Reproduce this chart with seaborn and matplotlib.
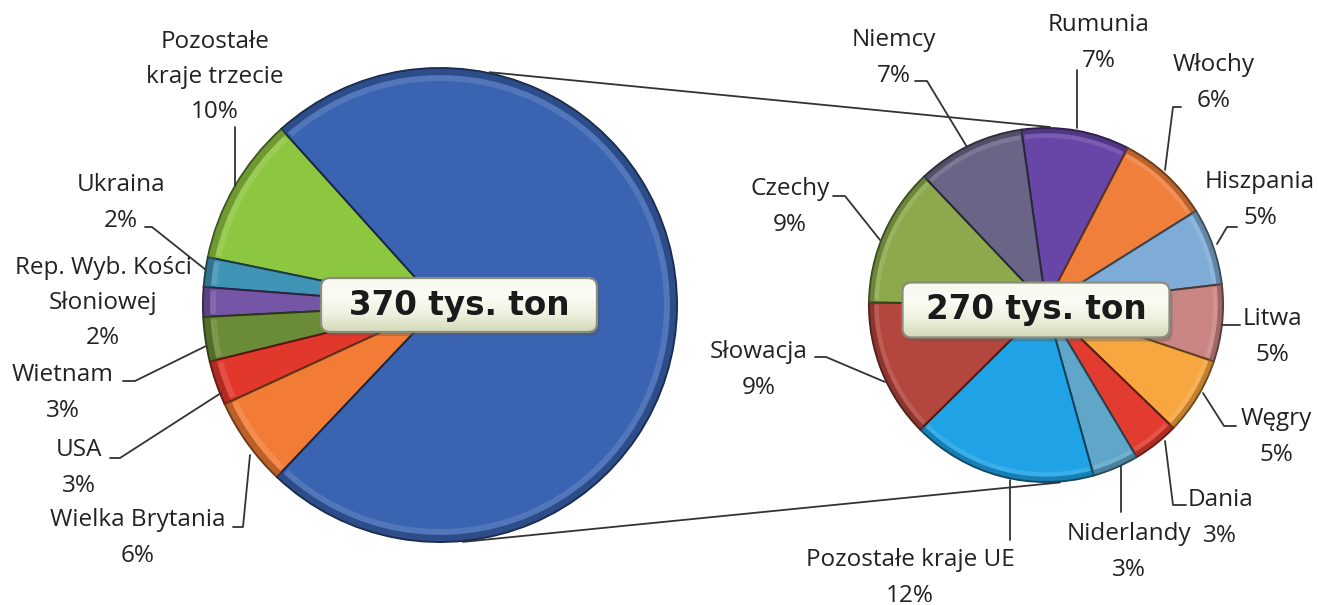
import numpy as np
import matplotlib
matplotlib.use("Agg")
import matplotlib.pyplot as plt
import matplotlib.colors as mcolors
from matplotlib.patches import Wedge, FancyBboxPatch
from matplotlib.colors import LinearSegmentedColormap
import seaborn as sns

W, H = 1319, 605

# --- data -------------------------------------------------------------
total_tons = 370
eu_tons = 270

left_names = ["Pozostałe\nkraje trzecie", "Ukraina", "Rep. Wyb. Kości\nSłoniowej",
              "Wietnam", "USA", "Wielka Brytania"]
left_pct = [10, 2, 2, 3, 3, 6]
eu_pct = round(100 * eu_tons / total_tons)

right_names = ["Rumunia", "Włochy", "Hiszpania", "Litwa", "Węgry", "Dania",
               "Niderlandy", "Pozostałe kraje UE", "Słowacja", "Czechy", "Niemcy"]
right_pct = [7, 6, 5, 5, 5, 3, 3, 12, 9, 9, 7]

left_colors = ["#8dc63f", "#3f93b5", "#7555a5", "#6b8c37", "#e2382b", "#f27c35"]
eu_color = "#3a63b1"
right_colors = ["#6746a8", "#f07f3c", "#7facd6", "#c98583", "#f8a640", "#e23b2f",
                "#5fa6c8", "#1fa3e6", "#b4463d", "#8caa4c", "#6a6587"]

# label centres and leader lines (image pixel coords, y down)
left_layout = [
    ((215, 77), [(235, 127), (235, 186)]),
    ((121, 203), [(145, 227), (152, 227), (206, 270)]),
    ((103, 303), None),
    ((63, 393), [(123, 381), (135, 381), (206, 346)]),
    ((79, 468), [(110, 458), (120, 458), (221, 393)]),
    ((138, 538), [(233, 527), (243, 527), (250, 455)]),
]
right_layout = [
    ((1099, 43), [(1077, 70), (1077, 128)]),
    ((1214, 83), [(1181, 107), (1173, 107), (1165, 170)]),
    ((1260, 200), [(1237, 227), (1227, 227), (1217, 244)]),
    ((1272, 337), [(1240, 325), (1222, 325)]),
    ((1276, 437), [(1236, 426), (1224, 426), (1203, 393)]),
    ((1220, 518), [(1186, 505), (1173, 505), (1165, 441)]),
    ((1129, 552), [(1121, 512), (1121, 466)]),
    ((910, 578), [(1010, 540), (1010, 480)]),
    ((759, 370), [(815, 357), (826, 357), (885, 382)]),
    ((790, 207), [(833, 196), (845, 196), (880, 240)]),
    ((894, 58), [(915, 81), (927, 81), (967, 147)]),
]

sns.set_theme(style="white")
plt.rcParams["font.family"] = ["Open Sans", "DejaVu Sans"]


def img(x, y):
    return x, H - y


def shade(c, f):
    r, g, b = mcolors.to_rgb(c)
    if f < 1:
        return (r * f, g * f, b * f)
    return (r + (1 - r) * (f - 1), g + (1 - g) * (f - 1), b + (1 - b) * (f - 1))


fig = plt.figure(figsize=(W / 100, H / 100), dpi=100)
ax = fig.add_axes([0, 0, 1, 1])

L_C, L_R = img(440, 305), 237
R_C, R_R = img(1046, 305), 177

lw_, _ = ax.pie(left_pct + [eu_pct], colors=left_colors + [eu_color], startangle=132,
                center=L_C, radius=L_R, frame=True,
                wedgeprops=dict(linewidth=1.4))
rw_, _ = ax.pie(right_pct, colors=right_colors, startangle=98, counterclock=False,
                center=R_C, radius=R_R, frame=True,
                wedgeprops=dict(linewidth=1.4))

# fake bevel: dark rim + faint light band on every slice
for w in list(lw_) + list(rw_):
    fc = w.get_facecolor()
    w.set_edgecolor(shade(fc, 0.4))
    r = w.r
    ax.add_patch(Wedge(w.center, r, w.theta1, w.theta2, width=r * 0.03,
                       fc=shade(fc, 0.6), ec="none", alpha=0.55, zorder=3))
    ax.add_patch(Wedge(w.center, r * 0.97, w.theta1 + 0.8, w.theta2 - 0.8,
                       width=r * 0.025, fc=shade(fc, 1.35), ec="none", alpha=0.35, zorder=3))

# connector lines between the two pies
def on_circle(c, r, deg):
    a = np.radians(deg)
    return c[0] + r * np.cos(a), c[1] + r * np.sin(a)

for a_l, a_r in [(78, 88.7), (-84.5, -85.5)]:
    p1 = on_circle(L_C, L_R + 1, a_l)
    p2 = on_circle(R_C, R_R + 1, a_r)
    ax.plot([p1[0], p2[0]], [p1[1], p2[1]], color="#333333", lw=1.3, zorder=4)

# total boxes
grad_cmap = LinearSegmentedColormap.from_list(
    "box", ["#d3dab8", "#eef1df", "#fbfcf5", "#f7f8ee"])


def total_box(xc, yc, bw, bh, txt):
    xc, yc = img(xc, yc)
    x0, y0 = xc - bw / 2, yc - bh / 2
    ax.add_patch(FancyBboxPatch((x0 + 3, y0 - 4), bw, bh,
                                boxstyle="round,pad=0,rounding_size=9",
                                fc="#555555", ec="none", alpha=0.35, zorder=5))
    box = FancyBboxPatch((x0, y0), bw, bh, boxstyle="round,pad=0,rounding_size=9",
                         fc="none", ec="#8a8c7c", lw=1.6, zorder=7)
    ax.add_patch(box)
    grad = np.linspace(0, 1, 64).reshape(-1, 1)
    im = ax.imshow(grad, extent=[x0, x0 + bw, y0, y0 + bh], origin="lower",
                   cmap=grad_cmap, aspect="auto", zorder=6)
    im.set_clip_path(box)
    ax.text(xc, yc, txt, ha="center", va="center", fontsize=23.5,
            fontweight="bold", family=["DejaVu Sans"], color="#1a1a1a", zorder=8)


total_box(459, 305, 276, 54, f"{total_tons} tys. ton")
total_box(1036, 310, 267, 55, f"{eu_tons} tys. ton")

# slice labels with leader lines
def put_labels(names, pcts, layout):
    for name, pct, ((cx, cy), leader) in zip(names, pcts, layout):
        x, y = img(cx, cy)
        ax.text(x, y, f"{name}\n{pct}%", ha="center", va="center",
                multialignment="center", fontsize=17.5, linespacing=1.62,
                color="#222222", zorder=9)
        if leader:
            xs, ys = zip(*[img(px, py) for px, py in leader])
            ax.plot(xs, ys, color="#333333", lw=1.3, zorder=9)


put_labels(left_names, left_pct, left_layout)
put_labels(right_names, right_pct, right_layout)

ax.set_xlim(0, W)
ax.set_ylim(0, H)
ax.set_aspect("equal")
ax.axis("off")

fig.savefig("out.png", dpi=100, facecolor="white")
